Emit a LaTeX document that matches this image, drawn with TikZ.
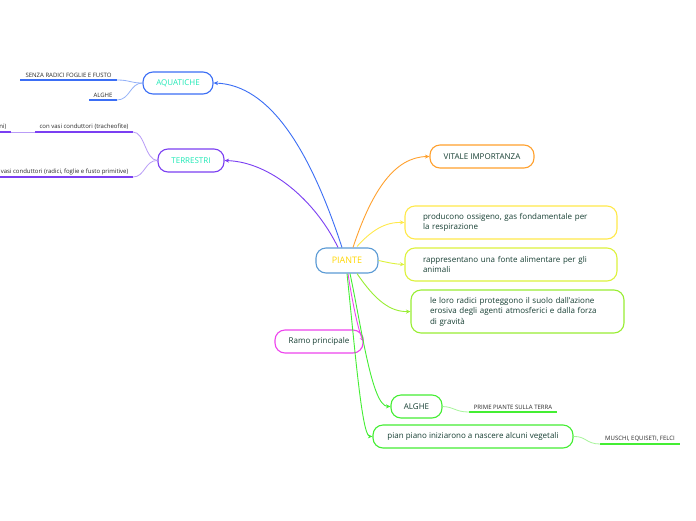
\documentclass[tikz,border=0pt]{standalone}
\usepackage{fontspec}
\setmainfont{Open Sans}
\usetikzlibrary{arrows.meta,calc}
\definecolor{cPiante}{HTML}{5B9BD5}
\definecolor{cYel}{HTML}{FFD700}
\definecolor{cBlue}{HTML}{3B6EF5}
\definecolor{cBlueL}{HTML}{94B2F8}
\definecolor{cPur}{HTML}{7B3FF2}
\definecolor{cPurL}{HTML}{B99CF7}
\definecolor{cTurq}{HTML}{1DE9B6}
\definecolor{cOra}{HTML}{FFA12E}
\definecolor{cYel2}{HTML}{FFE94A}
\definecolor{cLime}{HTML}{DDF23C}
\definecolor{cGr1}{HTML}{99EE33}
\definecolor{cMag}{HTML}{EE44EE}
\definecolor{cGr2}{HTML}{44EE33}
\definecolor{cGrL}{HTML}{A6F59A}
\definecolor{cTxt}{HTML}{173F33}
\definecolor{cLeaf}{HTML}{2A2A2A}
\tikzset{
  mbox/.style={draw, rounded corners=10pt, line width=1.1pt, fill=white,
    font=\fontsize{8}{10.5}\selectfont, text=cTxt, inner sep=0pt},
  conn/.style={line width=0.9pt, -{Stealth[length=4.5pt,width=4pt]}},
  lconn/.style={line width=0.8pt},
  uline/.style={line width=2pt},
  leaf/.style={font=\fontsize{6}{7}\selectfont, text=cLeaf, inner sep=1.5pt}
}
\begin{document}
\begin{tikzpicture}[x=1pt,y=-1pt]
\useasboundingbox (0,0) rectangle (696,520);
\fill[white] (0,0) rectangle (696,520);

% main nodes
\node[mbox, draw=cPiante, text=cYel, minimum width=62pt, minimum height=25pt, font=\fontsize{9}{10}\selectfont] (piante) at (347,260.5) {PIANTE};
\node[mbox, draw=cBlue, text=cTurq, minimum width=70pt, minimum height=22pt] (aqu) at (178,83) {AQUATICHE};
\node[mbox, draw=cPur, text=cTurq, minimum width=66pt, minimum height=23pt] (ter) at (191,160.5) {TERRESTRI};
\node[mbox, draw=cOra, minimum width=104pt, minimum height=23pt] (vit) at (482,156.5) {VITALE IMPORTANZA};
\node[mbox, draw=cYel2, minimum width=212pt, minimum height=33pt, text width=176pt, align=left] (prod) at (511,222.5) {producono ossigeno, gas fondamentale per\\la respirazione};
\node[mbox, draw=cLime, minimum width=212pt, minimum height=33pt, text width=176pt, align=left] (rapp) at (511,264.5) {rappresentano una fonte alimentare per gli\\animali};
\node[mbox, draw=cGr1, minimum width=213pt, minimum height=43pt, text width=175pt, align=left] (radici) at (517.5,311.5) {le loro radici proteggono il suolo dall'azione\\erosiva degli agenti atmosferici e dalla forza\\di gravità};
\node[mbox, draw=cMag, minimum width=88pt, minimum height=23pt] (ramo) at (319,341.5) {Ramo principale};
\node[mbox, draw=cGr2, minimum width=51pt, minimum height=23pt] (alghe) at (416.5,406.5) {ALGHE};
\node[mbox, draw=cGr2, minimum width=200pt, minimum height=23pt] (pian) at (473,436.5) {pian piano iniziarono a nascere alcuni vegetali};

% connectors from PIANTE
\draw[conn, cBlue] ([xshift=-5pt]piante.north) .. controls (310,150) and (270,85) .. (aqu.east);
\draw[conn, cPur] ([xshift=-9pt]piante.north) .. controls (315,200) and (270,162) .. (ter.east);
\draw[conn, cOra] ([xshift=6pt]piante.north) .. controls (372,190) and (395,157) .. (vit.west);
\draw[conn, cYel2] ([xshift=10pt,yshift=1pt]piante.north) .. controls (372,230) and (385,222) .. (prod.west);
\draw[conn, cLime] (piante.east) .. controls (390,263) and (395,264) .. (rapp.west);
\draw[conn, cGr1] ([xshift=10pt]piante.south) .. controls (375,300) and (390,312) .. (radici.west);
\draw[conn, cMag] ([xshift=1pt]piante.south) .. controls (352,300) and (358,330) .. (ramo.east);
\draw[conn, cGr2] ([xshift=3pt]piante.south) .. controls (362,330) and (372,406) .. (alghe.west);
\draw[conn, cGr2] ([xshift=0pt]piante.south) .. controls (355,350) and (362,436) .. (pian.west);

% leaves of AQUATICHE
\coordinate (senzaL) at (20,80); \coordinate (senzaR) at (117,80);
\coordinate (algL) at (89,100); \coordinate (algR) at (117,100);
\draw[uline, cBlue] (senzaL) -- (senzaR);
\draw[uline, cBlue] (algL) -- (algR);
\node[leaf, anchor=south] (senza) at ([yshift=0.5pt]$(senzaL)!0.5!(senzaR)$) {SENZA RADICI FOGLIE E FUSTO};
\node[leaf, anchor=south] (alg2) at ([yshift=0.5pt]$(algL)!0.5!(algR)$) {ALGHE};
\draw[lconn, cBlueL] (aqu.west) .. controls (130,83) and (130,80) .. (senzaR);
\draw[lconn, cBlueL] (aqu.west) .. controls (130,83) and (130,100) .. (algR);

% leaves of TERRESTRI
\coordinate (conL) at (35,132); \coordinate (conR) at (133,132);
\coordinate (niL) at (0,132); \coordinate (niR) at (11,132);
\coordinate (svL) at (0,177); \coordinate (svR) at (133,177);
\draw[uline, cPur] (conL) -- (conR);
\draw[uline, cPur] (niL) -- (niR);
\draw[uline, cPur] (svL) -- (svR);
\node[leaf, anchor=south] (convasi) at ([yshift=0.5pt]$(conL)!0.5!(conR)$) {con vasi conduttori (tracheofite)};
\node[leaf, anchor=south east] (ni) at ([yshift=0.5pt]8,132) {ni)};
\node[leaf, anchor=south east] (senzavasi) at ([yshift=0.5pt]130,177) {vasi conduttori (radici, foglie e fusto primitive)};
\draw[lconn, cPurL] (conL) -- (niR);
\draw[lconn, cPurL] (ter.west) .. controls (145,160) and (145,132) .. (conR);
\draw[lconn, cPurL] (ter.west) .. controls (145,160) and (145,177) .. (svR);

% leaves of green branches
\coordinate (primeL) at (469,412); \coordinate (primeR) at (557,412);
\coordinate (musL) at (600,444); \coordinate (musR) at (680,444);
\draw[uline, cGr2] (primeL) -- (primeR);
\draw[uline, cGr2] (musL) -- (musR);
\node[leaf, anchor=south] (prime) at ([yshift=0.5pt]$(primeL)!0.5!(primeR)$) {PRIME PIANTE SULLA TERRA};
\node[leaf, anchor=south] (muschi) at ([yshift=0.5pt]$(musL)!0.5!(musR)$) {MUSCHI, EQUISETI, FELCI};
\draw[lconn, cGrL] (alghe.east) .. controls (455,407) and (455,412) .. (primeL);
\draw[lconn, cGrL] (pian.east) .. controls (586,436) and (586,444) .. (musL);
\end{tikzpicture}
\end{document}
